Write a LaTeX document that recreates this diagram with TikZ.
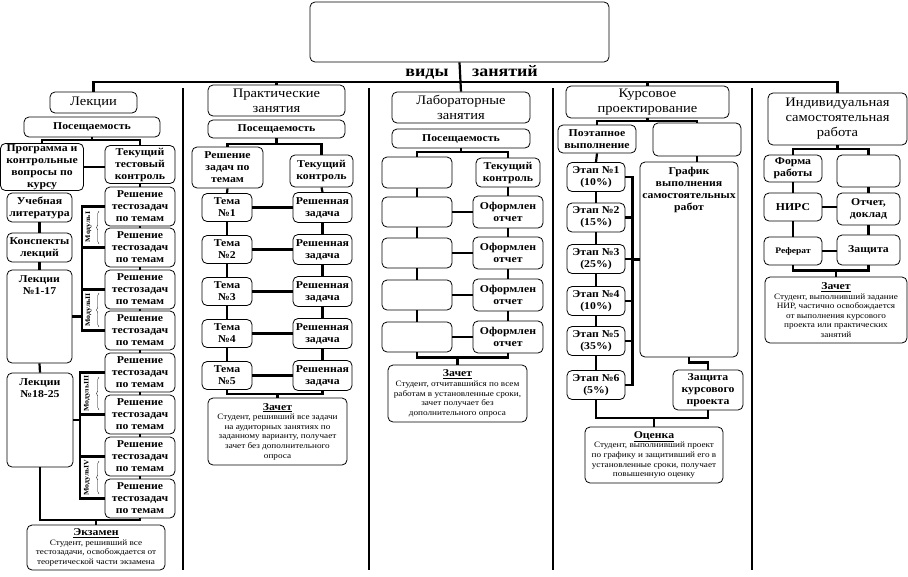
\documentclass[tikz,border=0pt]{standalone}
\usepackage{fontspec}
\setmainfont{Liberation Serif}[FakeStretch=1.12]
\usetikzlibrary{positioning, decorations.pathreplacing}

\tikzset{
  bx/.style={draw, line width=0.8pt, rounded corners=5pt, align=center, inner sep=1pt,
    font=\fontsize{10.5}{12}\selectfont\bfseries},
  hd/.style={bx, font=\fontsize{13}{15}\selectfont},
  nt/.style={bx, font=\fontsize{8.2}{9.6}\selectfont},
  mdl/.style={inner sep=0pt, rotate=90, font=\fontsize{7}{8}\selectfont\bfseries},
  ln/.style={line width=2.2pt},
  sep/.style={line width=2pt},
  sz/.style 2 args={minimum width=#1pt, minimum height=#2pt},
}
\newcommand{\ttl}[1]{{\fontsize{10.5}{11.5}\selectfont\bfseries\underline{#1}}}

\begin{document}
\begin{tikzpicture}[x=1pt, y=-1pt]
  \useasboundingbox (0,0) rectangle (908,576);

  % Top
  \node[bx, sz={299}{60}] (tb) at (459.5,32) {};
  \node[anchor=base, font=\fontsize{16}{17}\selectfont\bfseries] (vid) at (427,76) {виды};
  \node[anchor=base, font=\fontsize{16}{17}\selectfont\bfseries] (zan) at (505,76) {занятий};
  \coordinate (bus) at (0,82);

  % Heads
  \node[hd, sz={87}{21}] (lek) at (93.5,102.5) {Лекции};
  \node[hd, sz={137}{31}] (prak) at (276.5,100.5) {Практические\\занятия};
  \node[hd, sz={138}{31}] (lab) at (461,107.5) {Лабораторные\\занятия};
  \node[hd, sz={163}{32}] (kurs) at (647.5,102) {Курсовое\\проектирование};
  \node[hd, sz={139}{52}] (ind) at (837.5,119) {Индивидуальная\\самостоятельная\\работа};

  \draw[ln] (lek.north) -- (lek.north |- bus) -- (ind.north |- bus) -- (ind.north);
  \draw[ln] (tb.south) -- (lab.north);
  \draw[ln] (prak.north) -- (prak.north |- bus);
  \draw[ln] (kurs.north) -- (kurs.north |- bus);

  % Separators
  \foreach \x in {183,369,553,752}
    \draw[sep] (\x,88) -- (\x,570);

  % Lectures
  \node[bx, sz={136}{20}] (pos1) at (92,127) {Посещаемость};
  \node[bx, sz={83}{47}] (prog) at (42,167) {Программа и\\контрольные\\вопросы по\\курсу};
  \node[bx, sz={70}{38}] (tek1) at (140,164.5) {Текущий\\тестовый\\контроль};
  \node[bx, sz={65}{29}] (uch) at (39.5,207.5) {Учебная\\литература};
  \node[bx, sz={65}{29}] (kon) at (39.5,247.5) {Конспекты\\лекций};
  \node[bx, sz={65}{93}, label={[anchor=north, yshift=-2pt, align=center, font=\fontsize{10.5}{12}\selectfont\bfseries]north:Лекции\\№1-17}] (l117) at (39.5,316.5) {};
  \node[bx, sz={66}{94}, label={[anchor=north, yshift=-2pt, align=center, font=\fontsize{10.5}{12}\selectfont\bfseries]north:Лекции\\№18-25}] (l1825) at (40,420) {};
  \foreach \i/\y in {1/206.5,2/247.5,3/289.5,4/330.5,5/372.5,6/414.5,7/456.5,8/498.5}
    \node[bx, sz={70}{39}] (r\i) at (140,\y) {Решение\\тестозадач\\по темам};
  \node[nt, sz={138}{45}] (ekz) at (96,547.5) {\ttl{Экзамен}\\Студент, решивший все\\тестозадачи, освобождается от\\теоретической части экзамена};

  \draw[ln] (pos1.south) -- ++(0,3);
  \draw[ln] (prog.north) -- ++(0,-3) -| (tek1.north);
  \draw[ln] (prog.east) -- (prog.east -| tek1.west);
  \draw[ln] (uch.south) -- (kon.north);
  \draw[ln] (kon.south) -- (l117.north);
  \draw[ln] (l117.south) -- (l1825.north);
  \draw[ln] (tek1.south) -- (r1.north);
  \foreach \i/\j in {1/2,2/3,3/4,4/5,5/6,6/7,7/8}
    \draw[ln] (r\i.south) -- (r\j.north);
  \coordinate (b1) at (0,520);
  \draw[ln] (l1825.south) |- (r8.south |- b1) -- (r8.south);
  \draw[ln] (ekz.north) -- (ekz.north |- b1);

  % Modules
  \draw[ln] (r1.west) -- ++(-23,0) coordinate (m1) -- (m1 |- r4.west) -- (r4.west);
  \draw[ln] (r2.west) -- (r2.west -| m1);
  \draw[ln] (r3.west) -- (r3.west -| m1);
  \draw[ln] (l117.east) -- (l117.east -| m1);
  \draw[ln] (r5.west) -- ++(-25,0) coordinate (m2) -- (m2 |- r8.west) -- (r8.west);
  \draw[ln] (r6.west) -- (r6.west -| m2);
  \draw[ln] (r7.west) -- (r7.west -| m2);
  \draw[ln] (l1825.east) -- (l1825.east -| m2);
  \node[mdl] (md1) at (88.5,227) {МодульI};
  \node[mdl] (md2) at (88.5,310) {МодульII};
  \node[mdl] (md3) at (87,393.5) {МодульIII};
  \node[mdl] (md4) at (87,477.5) {МодульIV};
  \foreach \a/\b in {244/211,327/293,410/377,494/461}
    \draw[thin, decorate, decoration={brace, amplitude=2.5pt}] (99,\a) -- (99,\b);

  % Practice
  \node[bx, sz={137}{18}] (pos2) at (276.5,129) {Посещаемость};
  \node[bx, sz={71}{41}] (rz) at (227.5,167.5) {Решение\\задач по\\темам};
  \node[bx, sz={63}{32}] (tk2) at (321.5,171) {Текущий\\контроль};
  \foreach \i/\y in {1/207.5,2/249.5,3/291.5,4/333.5,5/375.5}{
    \node[bx, sz={50}{28}] (t\i) at (227,\y) {Тема\\№\i};
    \node[bx, sz={59}{30}] (s\i) at (322.5,\y) {Решенная\\задача};
  }
  \node[nt, sz={139}{67}] (zach2) at (277.5,431.5) {\ttl{Зачет}\\Студент, решивший все задачи\\на аудиторных занятиях по\\заданному варианту, получает\\зачет без дополнительного\\опроса};

  \draw[ln] (pos2.south) -- ++(0,6);
  \draw[ln] (rz.north) -- ++(0,-3) -| (tk2.north);
  \draw[ln] (rz.south) -- (t1.north);
  \draw[ln] (tk2.south) -- (s1.north);
  \foreach \i/\j in {1/2,2/3,3/4,4/5}{
    \draw[ln] (t\i.south) -- (t\j.north);
    \draw[ln] (s\i.south) -- (s\j.north);
  }
  \foreach \i in {1,...,5}
    \draw[ln] (t\i.east) -- (s\i.west);
  \draw[ln] (t5.south) -- ++(0,4) -| (s5.south);
  \draw[ln] (zach2.north) -- ++(0,-5);

  % Laboratory
  \node[bx, sz={138}{19}] (pos3) at (461,138.5) {Посещаемость};
  \node[bx, sz={70}{31}] (e0) at (417,172.5) {};
  \node[bx, sz={64}{29}] (tk3) at (508,172.5) {Текущий\\контроль};
  \foreach \i/\y in {1/212,2/253,3/295,4/337}{
    \node[bx, sz={70}{30}] (e\i) at (417,\y) {};
    \node[bx, sz={70}{32}] (o\i) at (508,\y) {Оформлен\\отчет};
  }
  \node[nt, sz={139}{57}] (zach3) at (457.5,393.5) {\ttl{Зачет}\\Студент, отчитавшийся по всем\\работам в установленные сроки,\\зачет получает без\\дополнительного опроса};

  \draw[ln] (pos3.south) -- ++(0,4);
  \draw[ln] (e0.north) -- ++(0,-5) -| (tk3.north);
  \draw[ln] (e0.south) -- (e1.north);
  \draw[ln] (tk3.south) -- (o1.north);
  \foreach \i/\j in {1/2,2/3,3/4}{
    \draw[ln] (e\i.south) -- (e\j.north);
    \draw[ln] (o\i.south) -- (o\j.north);
  }
  \foreach \i in {1,...,4}
    \draw[ln] (e\i.east) -- (o\i.west);
  \draw[ln] (e4.south) -- ++(0,5) -| (o4.south);
  \draw[ln] (zach3.north) -- ++(0,-8);

  % Course project
  \node[bx, sz={78}{28}] (poe) at (597,139) {Поэтапное\\выполнение};
  \node[bx, sz={88}{33}] (e5) at (697,139.5) {};
  \foreach \i/\y/\p in {1/177/10,2/217.5/15,3/259/25,4/301/10,5/341/35,6/385/5}
    \node[bx, sz={58}{29}] (et\i) at (596,\y) {Этап №\i\\(\p\%)};
  \node[bx, sz={98}{195}, label={[anchor=north, yshift=-2pt, align=center, font=\fontsize{10.5}{12}\selectfont\bfseries]north:График\\выполнения\\самостоятельных\\работ}] (graf) at (689,259.5) {};
  \node[bx, sz={70}{40}] (zk) at (708,390) {Защита\\курсового\\проекта};
  \node[nt, sz={138}{56}] (ocen) at (654,455) {\ttl{Оценка}\\Студент, выполнивший проект\\по графику и защитивший его в\\установленные сроки, получает\\повышенную оценку};

  \draw[ln] (kurs.south) -- ++(0,3);
  \draw[ln] (poe.north) -- ++(0,-4) -| (e5.north);
  \draw[ln] (poe.south) -- (et1.north);
  \foreach \i/\j in {1/2,2/3,3/4,4/5,5/6}
    \draw[ln] (et\i.south) -- (et\j.north);
  \draw[ln] (et1.east) -- ++(7,0) coordinate (kb) -- (kb |- et6.east) -- (et6.east);
  \foreach \i in {2,...,5}
    \draw[ln] (et\i.east) -- (et\i.east -| kb);
  \draw[ln] (graf.west) -- (graf.west -| kb);
  \draw[ln] (e5.south) -- (e5.south |- graf.north);
  \draw[ln] (graf.south) -- ++(0,5) -| (zk.north);
  \draw[ln] (et6.south) -- ++(0,18) -| (zk.south);
  \draw[ln] (ocen.north) -- ++(0,-9);

  % Individual work
  \node[bx, sz={58}{27}] (forma) at (793,168.5) {Форма\\работы};
  \node[bx, sz={63}{32}] (e6) at (868.5,171) {};
  \node[bx, sz={58}{28}] (nirs) at (793,207) {НИРС};
  \node[bx, sz={63}{32}] (otch) at (868.5,209) {Отчет,\\доклад};
  \node[bx, sz={58}{28}, font=\fontsize{8.5}{10}\selectfont\bfseries] (ref) at (793,251) {Реферат};
  \node[bx, sz={63}{30}] (zash) at (868.5,250) {Защита};
  \node[nt, sz={142}{66}] (zach5) at (836,310) {\ttl{Зачет}\\Студент, выполнивший задание\\НИР, частично освобождается\\от выполнения курсового\\проекта или практических\\занятий};

  \draw[ln] (ind.south) -- ++(0,4);
  \draw[ln] (forma.north) -- ++(0,-6) -| (e6.north);
  \draw[ln] (forma.south) -- (nirs.north);
  \draw[ln] (nirs.south) -- (ref.north);
  \draw[ln] (e6.south) -- (otch.north);
  \draw[ln] (otch.south) -- (zash.north);
  \draw[ln] (nirs.east) -- (nirs.east -| otch.west);
  \draw[ln] (ref.east) -- (ref.east -| zash.west);
  \draw[ln] (ref.south) -- ++(0,5) -| (zash.south);
  \draw[ln] (zach5.north) -- ++(0,-7);
\end{tikzpicture}
\end{document}
